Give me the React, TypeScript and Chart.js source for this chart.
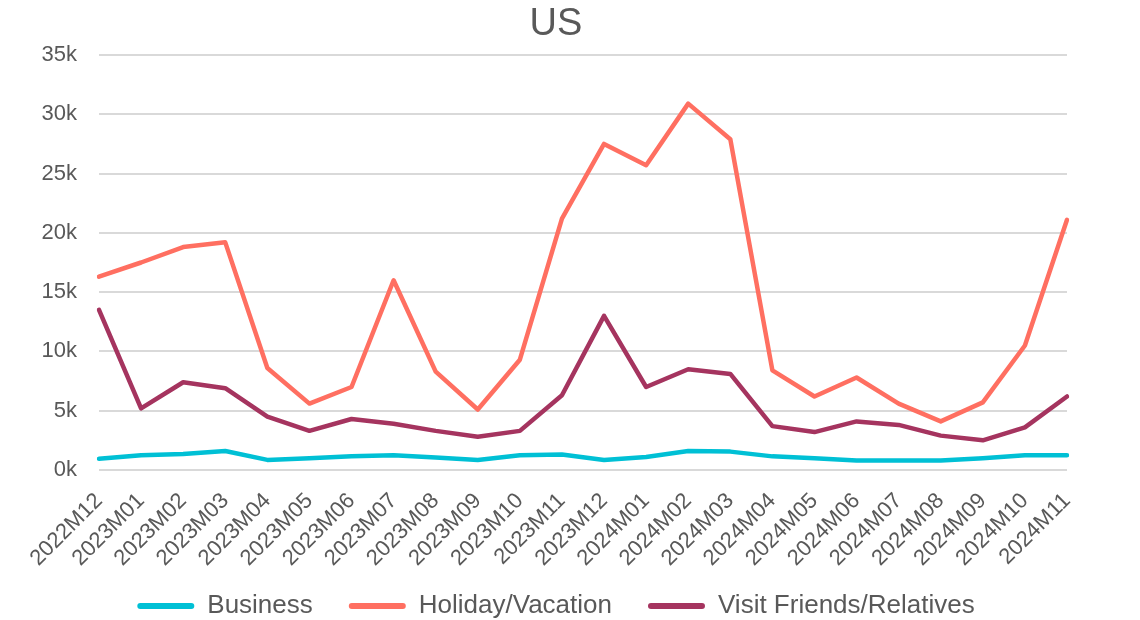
import React, { useEffect, useRef } from "react";
import { Chart, registerables } from "chart.js";

Chart.register(...registerables);

const categories = [
  "2022M12", "2023M01", "2023M02", "2023M03", "2023M04", "2023M05", "2023M06", "2023M07",
  "2023M08", "2023M09", "2023M10", "2023M11", "2023M12", "2024M01", "2024M02", "2024M03",
  "2024M04", "2024M05", "2024M06", "2024M07", "2024M08", "2024M09", "2024M10", "2024M11",
];

const business = [
  950, 1250, 1350, 1600, 850, 1000, 1150, 1250, 1050, 850, 1250, 1300,
  850, 1100, 1600, 1550, 1150, 1000, 800, 800, 800, 1000, 1250, 1250,
];

const holiday = [
  16300, 17500, 18800, 19200, 8600, 5600, 7000, 16000, 8300, 5100, 9300, 21200,
  27500, 25700, 30900, 27900, 8400, 6200, 7800, 5600, 4100, 5700, 10500, 21100,
];

const visit = [
  13500, 5200, 7400, 6900, 4500, 3300, 4300, 3900, 3300, 2800, 3300, 6300,
  13000, 7000, 8500, 8100, 3700, 3200, 4100, 3800, 2900, 2500, 3600, 6200,
];

const seriesNames = ["Business", "Holiday/Vacation", "Visit Friends/Relatives"];
const seriesColors = ["#00C0D5", "#FF6F61", "#A5345F"];

const FONT = "'Liberation Sans', Arial, sans-serif";
const TEXT = "#595959";

const unclipLabels = {
  id: "unclipLabels",
  afterLayout(chart: any) {
    const x = chart.scales.x;
    if (x) x.bottom = chart.height;
    const y = chart.scales.y;
    if (y) y.left = 0;
  },
};

export default function App() {
  const ref = useRef<HTMLCanvasElement>(null);

  useEffect(() => {
    if (!ref.current) return;
    Chart.defaults.font.family = FONT;
    const values = [business, holiday, visit];
    const chart = new Chart(ref.current, {
      type: "line",
      data: {
        labels: categories,
        datasets: values.map((v, i) => ({
          label: seriesNames[i],
          data: v,
          borderColor: seriesColors[i],
          backgroundColor: seriesColors[i],
          borderWidth: 4.5,
          pointRadius: 0,
          tension: 0,
          borderCapStyle: "round",
          borderJoinStyle: "round",
        })),
      },
      plugins: [unclipLabels],
      options: {
        responsive: false,
        animation: false,
        layout: { padding: { left: 45, right: 73, top: 0, bottom: -9 } },
        plugins: {
          title: {
            display: true,
            text: "US",
            color: TEXT,
            font: { family: FONT, size: 38, weight: "normal", lineHeight: 1 },
            padding: { top: 6, bottom: 11 },
          },
          legend: {
            position: "bottom",
            labels: {
              boxWidth: 57,
              boxHeight: 6,
              padding: 36,
              color: TEXT,
              font: { family: FONT, size: 26 },
              useBorderRadius: true,
              borderRadius: 3,
              generateLabels: (c: any) =>
                (Chart.defaults.plugins.legend.labels as any)
                  .generateLabels(c)
                  .map((l: any) => ({ ...l, lineWidth: 0 })),
            },
          },
          tooltip: { enabled: false },
        },
        scales: {
          x: {
            grid: { display: false, drawTicks: false },
            border: { display: false },
            ticks: {
              autoSkip: false,
              minRotation: 45,
              maxRotation: 45,
              padding: 18,
              color: TEXT,
              font: { family: FONT, size: 22 },
            },
            afterFit: (s: any) => {
              s.height = 87;
              s.paddingLeft = 0;
              s.paddingRight = 0;
            },
          },
          y: {
            min: 0,
            max: 35000,
            ticks: {
              stepSize: 5000,
              padding: 22,
              color: TEXT,
              font: { family: FONT, size: 22 },
              callback: (v: any) => Number(v) / 1000 + "k",
            },
            afterFit: (s: any) => {
              s.width = 54;
            },
            grid: { color: "#D9D9D9", lineWidth: 2, drawTicks: false },
            border: { display: false },
          },
        },
      } as any,
    });
    return () => chart.destroy();
  }, []);

  return (
    <div style={{ position: "absolute", left: 0, top: 0, width: 1140, height: 620 }}>
      <canvas ref={ref} width={1140} height={620} style={{ display: "block" }} />
    </div>
  );
}
